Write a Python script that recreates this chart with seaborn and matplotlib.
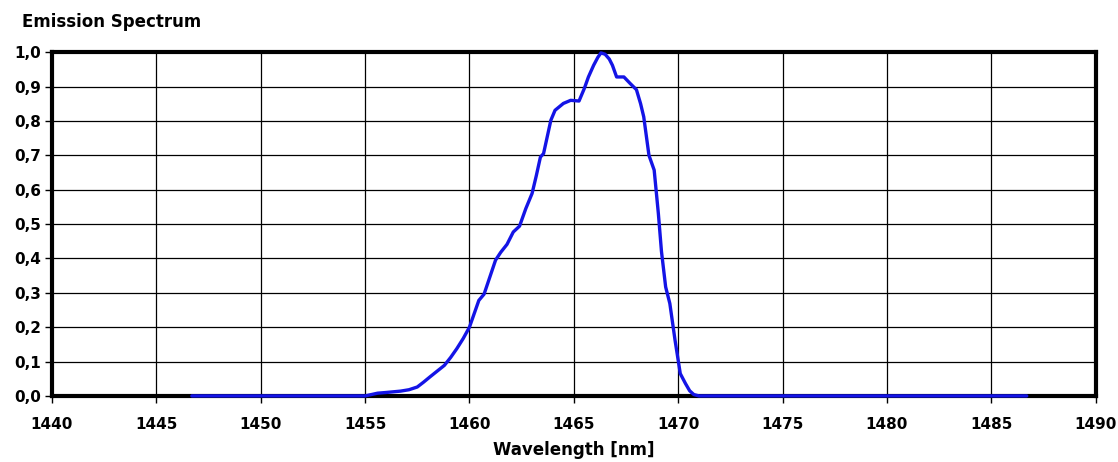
import numpy as np
import pandas as pd
import matplotlib
matplotlib.use("Agg")
import matplotlib.pyplot as plt
import seaborn as sns

# Emission spectrum
wavelength = [1446.7, 1450.0, 1455.0, 1455.3, 1455.6, 1456.0, 1456.7, 1457.1,
              1457.5, 1457.8, 1458.1, 1458.45, 1458.8, 1459.1, 1459.4, 1459.7,
              1460.0, 1460.45, 1460.7, 1461.0, 1461.25, 1461.5, 1461.8, 1462.1,
              1462.4, 1462.7, 1463.0, 1463.2, 1463.4, 1463.55, 1463.9, 1464.1,
              1464.5, 1464.85, 1465.25, 1465.5, 1465.7, 1465.95, 1466.15, 1466.3,
              1466.5, 1466.7, 1466.85, 1467.05, 1467.4, 1467.7, 1468.0, 1468.2,
              1468.35, 1468.6, 1468.85, 1469.05, 1469.2, 1469.4, 1469.6, 1469.85,
              1470.1, 1470.35, 1470.55, 1470.75, 1471.0, 1480.0, 1486.7]
intensity = [0.0, 0.0, 0.0, 0.004, 0.008, 0.010, 0.014, 0.018,
             0.026, 0.040, 0.055, 0.072, 0.089, 0.112, 0.138, 0.167,
             0.200, 0.278, 0.296, 0.350, 0.395, 0.418, 0.441, 0.477,
             0.494, 0.545, 0.589, 0.640, 0.695, 0.705, 0.802, 0.831,
             0.851, 0.860, 0.858, 0.894, 0.928, 0.962, 0.985, 0.998,
             0.994, 0.980, 0.962, 0.928, 0.928, 0.909, 0.891, 0.850,
             0.812, 0.700, 0.657, 0.531, 0.420, 0.317, 0.269, 0.162,
             0.065, 0.036, 0.015, 0.004, 0.0, 0.0, 0.0]

x_ticks = [1440, 1445, 1450, 1455, 1460, 1465, 1470, 1475, 1480, 1485, 1490]
y_ticks = [0.0, 0.1, 0.2, 0.3, 0.4, 0.5, 0.6, 0.7, 0.8, 0.9, 1.0]

df = pd.DataFrame({"wavelength": wavelength, "intensity": intensity})

sns.set_style("white")
plt.rcParams["font.family"] = ["DejaVu Sans"]
plt.rcParams["font.weight"] = "bold"
plt.rcParams["text.color"] = "black"
plt.rcParams["axes.labelcolor"] = "black"
plt.rcParams["xtick.color"] = "black"
plt.rcParams["ytick.color"] = "black"

fig = plt.figure(figsize=(11.18, 4.62), dpi=100)
ax = fig.add_axes([0.0465, 0.143, 0.9335, 0.744])

sns.lineplot(data=df, x="wavelength", y="intensity", ax=ax,
             color="#1414e6", linewidth=2.4, zorder=5, clip_on=False)

ax.set_xlim(1440, 1490)
ax.set_ylim(0, 1.0)
ax.set_xticks(x_ticks)
ax.set_yticks(y_ticks)
ax.set_yticklabels([f"{v:.1f}".replace(".", ",") for v in y_ticks])
ax.grid(True, color="black", linewidth=0.9)
ax.tick_params(axis="both", direction="out", length=5, width=1, color="black",
               labelcolor="black", labelsize=11, pad=3, bottom=True, left=True)
ax.tick_params(axis="x", pad=10)
for s in ax.spines.values():
    s.set_color("black")
    s.set_linewidth(3)
    s.set_zorder(4)

ax.set_xlabel("Wavelength [nm]", fontsize=12, fontweight="bold", labelpad=7,
              color="black")
ax.set_ylabel("")
fig.text(0.02, 0.952, "Emission Spectrum", fontsize=12, fontweight="bold",
         va="center", ha="left", color="black")

fig.savefig("out.png", dpi=100)
